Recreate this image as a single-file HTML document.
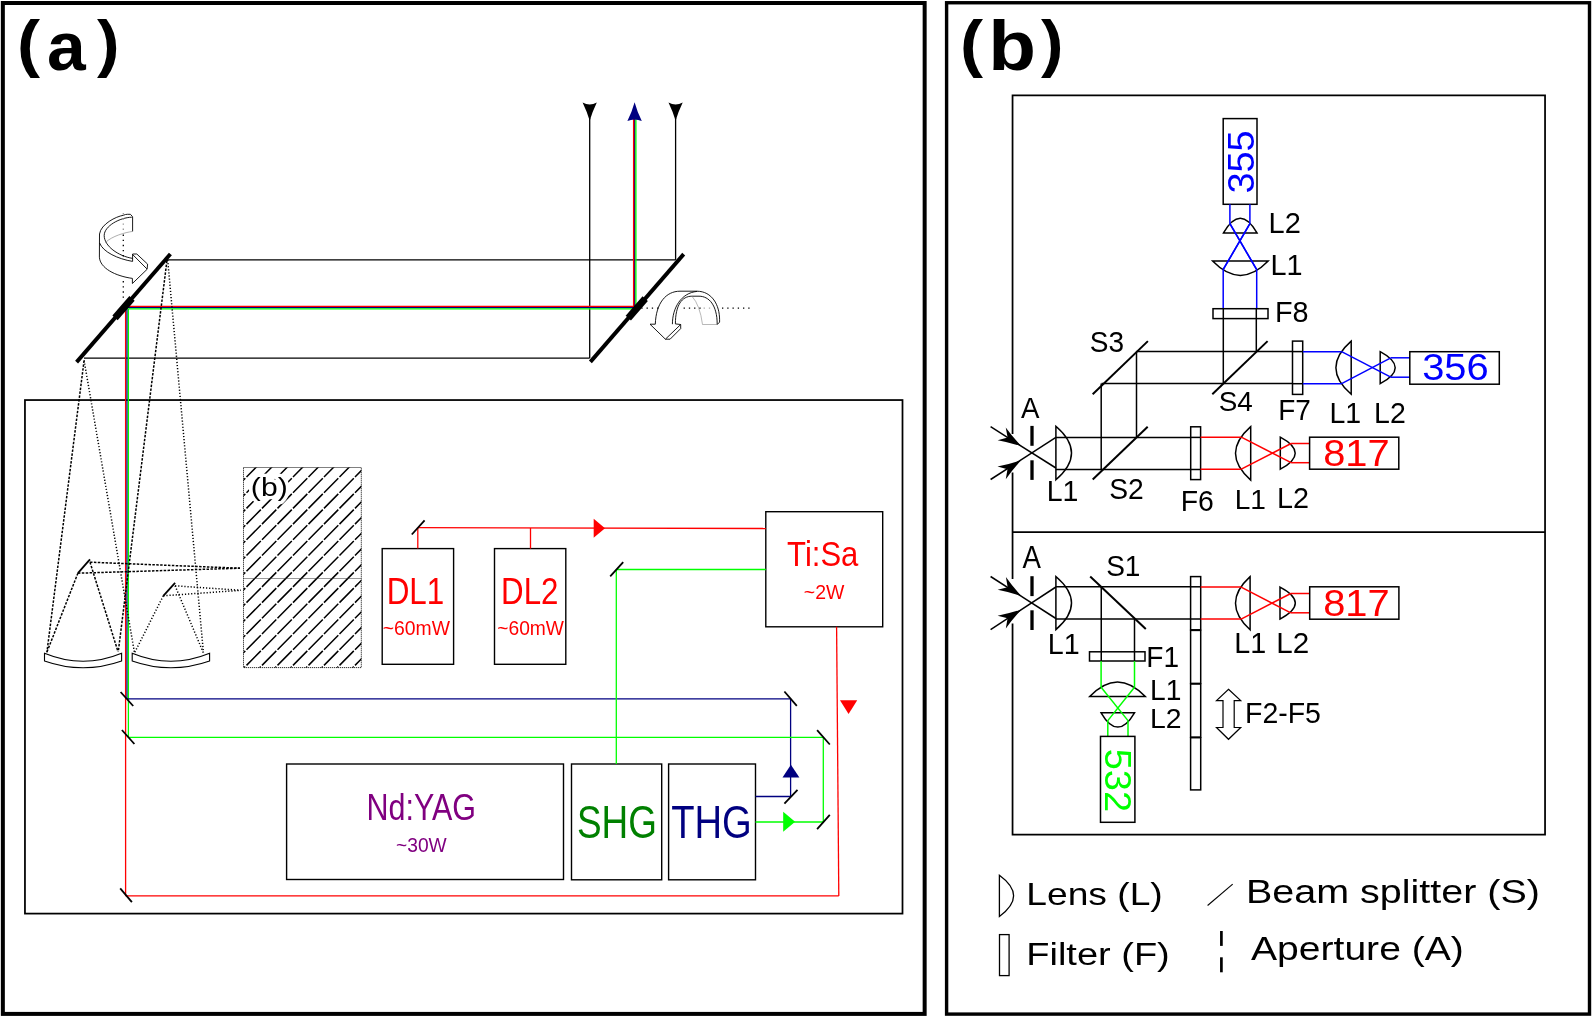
<!DOCTYPE html>
<html><head><meta charset="utf-8"><style>
html,body{margin:0;padding:0;background:#fff;overflow:hidden;}
svg{display:block;will-change:transform;}
text{font-family:"Liberation Sans",sans-serif;}
</style></head><body>
<svg width="1592" height="1017" viewBox="0 0 1592 1017">
<rect x="0" y="0" width="1592" height="1017" fill="#fff"/>
<rect x="2.85" y="3" width="921.80" height="1010.90" fill="none" stroke="#000" stroke-width="4" />
<text x="17.04" y="65.08" font-size="63.42" font-weight="bold" fill="#000" textLength="23.08" lengthAdjust="spacingAndGlyphs" >(</text>
<text x="47.01" y="69.71" font-size="69.09" font-weight="bold" fill="#000" textLength="38.67" lengthAdjust="spacingAndGlyphs" >a</text>
<text x="97.10" y="65.08" font-size="63.42" font-weight="bold" fill="#000" textLength="22.55" lengthAdjust="spacingAndGlyphs" >)</text>
<rect x="24.95" y="400.05" width="877.55" height="513.55" fill="none" stroke="#000" stroke-width="1.75" />
<line x1="167" y1="259.9" x2="675.6" y2="259.9" stroke="#000" stroke-width="1.3" />
<line x1="675.6" y1="259.9" x2="675.6" y2="118" stroke="#000" stroke-width="1.3" />
<line x1="589.7" y1="358.1" x2="589.7" y2="118" stroke="#000" stroke-width="1.3" />
<line x1="84" y1="358.1" x2="589.7" y2="358.1" stroke="#000" stroke-width="1.3" />
<path d="M582.6,102.6 Q589.7,106.6 596.8000000000001,102.6 Q592.3000000000001,112 589.7,120.8 Q587.1,112 582.6,102.6 Z" fill="#000"/>
<path d="M668.5,102.6 Q675.6,106.6 682.7,102.6 Q678.2,112 675.6,120.8 Q673.0,112 668.5,102.6 Z" fill="#000"/>
<polyline points="127,307.5 634.7,307.5 634.7,118" fill="none" stroke="#000080" stroke-width="1.3" />
<polyline points="125.6,306.3 633.6,306.3 633.6,118" fill="none" stroke="#ff0000" stroke-width="1.3" />
<polyline points="128.4,308.8 635.9,308.8 635.9,118" fill="none" stroke="#00ff00" stroke-width="1.3" />
<path d="M634.6,102.2 Q637.3000000000001,112 641.8000000000001,121 Q634.6,117.8 627.4,121 Q631.9,112 634.6,102.2 Z" fill="#000080"/>
<line x1="125.6" y1="306.3" x2="125.6" y2="895.7" stroke="#ff0000" stroke-width="1.3" />
<line x1="127" y1="307.5" x2="127" y2="698.8" stroke="#000080" stroke-width="1.3" />
<line x1="128.4" y1="308.8" x2="128.4" y2="737.3" stroke="#00ff00" stroke-width="1.3" />
<line x1="84.1" y1="360.5" x2="46.9" y2="652.3" stroke="#000" stroke-width="1.5" stroke-dasharray="2.5,1.4"/>
<line x1="84.1" y1="360.5" x2="134.4" y2="652.3" stroke="#000" stroke-width="1.5" stroke-dasharray="1.2,1.9"/>
<line x1="167.4" y1="256.9" x2="118.3" y2="651.5" stroke="#000" stroke-width="1.5" stroke-dasharray="2.5,1.4"/>
<line x1="167.4" y1="256.9" x2="203.4" y2="652.3" stroke="#000" stroke-width="1.5" stroke-dasharray="1.2,1.9"/>
<line x1="90" y1="562.2" x2="240" y2="568.2" stroke="#000" stroke-width="1.5" stroke-dasharray="2.5,1.4"/>
<line x1="77.9" y1="573.2" x2="240" y2="568.2" stroke="#000" stroke-width="1.5" stroke-dasharray="2.5,1.4"/>
<line x1="77.9" y1="573.2" x2="46.5" y2="653.1" stroke="#000" stroke-width="1.5" stroke-dasharray="2.5,1.4"/>
<line x1="90" y1="562.2" x2="118.1" y2="651.9" stroke="#000" stroke-width="1.5" stroke-dasharray="2.5,1.4"/>
<line x1="175.1" y1="585.8" x2="240.7" y2="590.3" stroke="#000" stroke-width="1.5" stroke-dasharray="1.2,1.9"/>
<line x1="163.3" y1="595.8" x2="240.7" y2="590.3" stroke="#000" stroke-width="1.5" stroke-dasharray="1.2,1.9"/>
<line x1="163.3" y1="595.8" x2="134.4" y2="653.1" stroke="#000" stroke-width="1.5" stroke-dasharray="1.2,1.9"/>
<line x1="175.1" y1="585.8" x2="203.5" y2="653.1" stroke="#000" stroke-width="1.5" stroke-dasharray="1.2,1.9"/>
<line x1="77.9" y1="573.2" x2="90" y2="559.4" stroke="#000" stroke-width="1.8" />
<line x1="163.3" y1="595.8" x2="175.1" y2="582.8" stroke="#000" stroke-width="1.8" />
<path d="M44.5,653.3 Q83.05,669.3 121.6,653.3 L121.6,660.9 Q83.05,674.5 44.5,660.9 Z" fill="#fff" stroke="#000" stroke-width="1.1"/>
<path d="M132.2,653.3 Q170.89999999999998,669.3 209.6,653.3 L209.6,660.9 Q170.89999999999998,674.5 132.2,660.9 Z" fill="#fff" stroke="#000" stroke-width="1.1"/>
<line x1="76.6" y1="362.1" x2="170.4" y2="254" stroke="#000" stroke-width="3.9" />
<line x1="115" y1="317.9" x2="132" y2="298.4" stroke="#000" stroke-width="7" />
<line x1="590.4" y1="361.9" x2="683.7" y2="254.1" stroke="#000" stroke-width="3.9" />
<line x1="628.3" y1="318.1" x2="645.2" y2="298.6" stroke="#000" stroke-width="7" />
<path d="M123.3,215.3 C116,216.5 101,224 99.5,234 L99.4,257.2 C100,268 115,276 132.4,278.4 L132.4,283.5 L147.1,269.3 L147.6,264.1 L136.8,254 L132.6,254 L132.6,261.4 C118,259 103,252 99.6,243" fill="none" stroke="#000" stroke-width="0.9" stroke-linejoin="round"/>
<path d="M123.3,215.3 C125,214.6 126,214.3 127.3,214.3 L130.4,214.3 L132.6,216.7 L132.6,231.4" fill="none" stroke="#000" stroke-width="0.9" stroke-linejoin="round"/>
<path d="M131.8,217.2 C120,217.5 104.2,226 104.2,235.5 C104.2,246 118,256 132.6,258.4" fill="none" stroke="#000" stroke-width="0.9" stroke-linejoin="round"/>
<path d="M132.6,231.4 C125,232.5 112,236 105.4,242.6" fill="none" stroke="#777" stroke-width="0.6"/>
<path d="M132.6,254.5 L146.9,268.9" fill="none" stroke="#000" stroke-width="0.9" stroke-linejoin="round"/>
<path d="M655.3,324.2 C656,303 666,291.2 680,291.2 L697,291.2 C712,291.3 719.6,305 719.6,319.8 L719.6,322.1 L717.2,324.5 C717.2,305 709,296.2 699,296.2 L691.9,296.2 C682,296.2 675.4,305 675.4,323.9 L680.7,324.5 L680.7,328.6 L670.1,339.2 L665.4,339.2 L650,324.2 Z" fill="none" stroke="#000" stroke-width="0.9" stroke-linejoin="round"/>
<path d="M672.4,324.2 C672.4,308 681,293 697,291.4 M665.4,339.2 L680.7,324.5" fill="none" stroke="#000" stroke-width="0.9" stroke-linejoin="round"/>
<path d="M691.9,296.2 Q700,305 702.5,324.5 L717.2,324.5" fill="none" stroke="#888" stroke-width="0.6"/>
<line x1="123.3" y1="213.1" x2="123.3" y2="231" stroke="#999" stroke-width="1.3" stroke-dasharray="1.4,3.75"/>
<line x1="123.3" y1="234.5" x2="123.3" y2="257.5" stroke="#000" stroke-width="1.3" stroke-dasharray="1.4,3.75"/>
<line x1="123.3" y1="281" x2="123.3" y2="298.5" stroke="#000" stroke-width="1.3" stroke-dasharray="1.4,3.75"/>
<line x1="641.3" y1="308.2" x2="659.2" y2="308.2" stroke="#000" stroke-width="1.3" stroke-dasharray="1.3,3.95"/>
<line x1="683.6" y1="308.2" x2="701" y2="308.2" stroke="#000" stroke-width="1.3" stroke-dasharray="1.3,3.95"/>
<line x1="703.6" y1="308.2" x2="711" y2="308.2" stroke="#aaa" stroke-width="1.3" stroke-dasharray="1.3,3.95"/>
<line x1="722" y1="308.2" x2="752.5" y2="308.2" stroke="#000" stroke-width="1.3" stroke-dasharray="1.3,3.95"/>
<defs><clipPath id="hclip"><rect x="243.5" y="467.5" width="117.8" height="200.1"/></clipPath></defs>
<path clip-path="url(#hclip)" d="M215.50,461.30L229.80,446.80M215.50,477.00L229.80,462.50M215.50,492.70L229.80,478.20M215.50,508.40L229.80,493.90M215.50,524.10L229.80,509.60M215.50,539.80L229.80,525.30M215.50,555.50L229.80,541.00M215.50,571.20L229.80,556.70M215.50,586.90L229.80,572.40M215.50,602.60L229.80,588.10M215.50,618.30L229.80,603.80M215.50,634.00L229.80,619.50M215.50,649.70L229.80,635.20M215.50,665.40L229.80,650.90M215.50,681.10L229.80,666.60M215.50,696.80L229.80,682.30M215.50,712.50L229.80,698.00M215.50,728.20L229.80,713.70M231.00,461.30L245.30,446.80M231.00,477.00L245.30,462.50M231.00,492.70L245.30,478.20M231.00,508.40L245.30,493.90M231.00,524.10L245.30,509.60M231.00,539.80L245.30,525.30M231.00,555.50L245.30,541.00M231.00,571.20L245.30,556.70M231.00,586.90L245.30,572.40M231.00,602.60L245.30,588.10M231.00,618.30L245.30,603.80M231.00,634.00L245.30,619.50M231.00,649.70L245.30,635.20M231.00,665.40L245.30,650.90M231.00,681.10L245.30,666.60M231.00,696.80L245.30,682.30M231.00,712.50L245.30,698.00M231.00,728.20L245.30,713.70M246.50,461.30L260.80,446.80M246.50,477.00L260.80,462.50M246.50,492.70L260.80,478.20M246.50,508.40L260.80,493.90M246.50,524.10L260.80,509.60M246.50,539.80L260.80,525.30M246.50,555.50L260.80,541.00M246.50,571.20L260.80,556.70M246.50,586.90L260.80,572.40M246.50,602.60L260.80,588.10M246.50,618.30L260.80,603.80M246.50,634.00L260.80,619.50M246.50,649.70L260.80,635.20M246.50,665.40L260.80,650.90M246.50,681.10L260.80,666.60M246.50,696.80L260.80,682.30M246.50,712.50L260.80,698.00M246.50,728.20L260.80,713.70M262.00,461.30L276.30,446.80M262.00,477.00L276.30,462.50M262.00,492.70L276.30,478.20M262.00,508.40L276.30,493.90M262.00,524.10L276.30,509.60M262.00,539.80L276.30,525.30M262.00,555.50L276.30,541.00M262.00,571.20L276.30,556.70M262.00,586.90L276.30,572.40M262.00,602.60L276.30,588.10M262.00,618.30L276.30,603.80M262.00,634.00L276.30,619.50M262.00,649.70L276.30,635.20M262.00,665.40L276.30,650.90M262.00,681.10L276.30,666.60M262.00,696.80L276.30,682.30M262.00,712.50L276.30,698.00M262.00,728.20L276.30,713.70M277.50,461.30L291.80,446.80M277.50,477.00L291.80,462.50M277.50,492.70L291.80,478.20M277.50,508.40L291.80,493.90M277.50,524.10L291.80,509.60M277.50,539.80L291.80,525.30M277.50,555.50L291.80,541.00M277.50,571.20L291.80,556.70M277.50,586.90L291.80,572.40M277.50,602.60L291.80,588.10M277.50,618.30L291.80,603.80M277.50,634.00L291.80,619.50M277.50,649.70L291.80,635.20M277.50,665.40L291.80,650.90M277.50,681.10L291.80,666.60M277.50,696.80L291.80,682.30M277.50,712.50L291.80,698.00M277.50,728.20L291.80,713.70M293.00,461.30L307.30,446.80M293.00,477.00L307.30,462.50M293.00,492.70L307.30,478.20M293.00,508.40L307.30,493.90M293.00,524.10L307.30,509.60M293.00,539.80L307.30,525.30M293.00,555.50L307.30,541.00M293.00,571.20L307.30,556.70M293.00,586.90L307.30,572.40M293.00,602.60L307.30,588.10M293.00,618.30L307.30,603.80M293.00,634.00L307.30,619.50M293.00,649.70L307.30,635.20M293.00,665.40L307.30,650.90M293.00,681.10L307.30,666.60M293.00,696.80L307.30,682.30M293.00,712.50L307.30,698.00M293.00,728.20L307.30,713.70M308.50,461.30L322.80,446.80M308.50,477.00L322.80,462.50M308.50,492.70L322.80,478.20M308.50,508.40L322.80,493.90M308.50,524.10L322.80,509.60M308.50,539.80L322.80,525.30M308.50,555.50L322.80,541.00M308.50,571.20L322.80,556.70M308.50,586.90L322.80,572.40M308.50,602.60L322.80,588.10M308.50,618.30L322.80,603.80M308.50,634.00L322.80,619.50M308.50,649.70L322.80,635.20M308.50,665.40L322.80,650.90M308.50,681.10L322.80,666.60M308.50,696.80L322.80,682.30M308.50,712.50L322.80,698.00M308.50,728.20L322.80,713.70M324.00,461.30L338.30,446.80M324.00,477.00L338.30,462.50M324.00,492.70L338.30,478.20M324.00,508.40L338.30,493.90M324.00,524.10L338.30,509.60M324.00,539.80L338.30,525.30M324.00,555.50L338.30,541.00M324.00,571.20L338.30,556.70M324.00,586.90L338.30,572.40M324.00,602.60L338.30,588.10M324.00,618.30L338.30,603.80M324.00,634.00L338.30,619.50M324.00,649.70L338.30,635.20M324.00,665.40L338.30,650.90M324.00,681.10L338.30,666.60M324.00,696.80L338.30,682.30M324.00,712.50L338.30,698.00M324.00,728.20L338.30,713.70M339.50,461.30L353.80,446.80M339.50,477.00L353.80,462.50M339.50,492.70L353.80,478.20M339.50,508.40L353.80,493.90M339.50,524.10L353.80,509.60M339.50,539.80L353.80,525.30M339.50,555.50L353.80,541.00M339.50,571.20L353.80,556.70M339.50,586.90L353.80,572.40M339.50,602.60L353.80,588.10M339.50,618.30L353.80,603.80M339.50,634.00L353.80,619.50M339.50,649.70L353.80,635.20M339.50,665.40L353.80,650.90M339.50,681.10L353.80,666.60M339.50,696.80L353.80,682.30M339.50,712.50L353.80,698.00M339.50,728.20L353.80,713.70M355.00,461.30L369.30,446.80M355.00,477.00L369.30,462.50M355.00,492.70L369.30,478.20M355.00,508.40L369.30,493.90M355.00,524.10L369.30,509.60M355.00,539.80L369.30,525.30M355.00,555.50L369.30,541.00M355.00,571.20L369.30,556.70M355.00,586.90L369.30,572.40M355.00,602.60L369.30,588.10M355.00,618.30L369.30,603.80M355.00,634.00L369.30,619.50M355.00,649.70L369.30,635.20M355.00,665.40L369.30,650.90M355.00,681.10L369.30,666.60M355.00,696.80L369.30,682.30M355.00,712.50L369.30,698.00M355.00,728.20L369.30,713.70M370.50,461.30L384.80,446.80M370.50,477.00L384.80,462.50M370.50,492.70L384.80,478.20M370.50,508.40L384.80,493.90M370.50,524.10L384.80,509.60M370.50,539.80L384.80,525.30M370.50,555.50L384.80,541.00M370.50,571.20L384.80,556.70M370.50,586.90L384.80,572.40M370.50,602.60L384.80,588.10M370.50,618.30L384.80,603.80M370.50,634.00L384.80,619.50M370.50,649.70L384.80,635.20M370.50,665.40L384.80,650.90M370.50,681.10L384.80,666.60M370.50,696.80L384.80,682.30M370.50,712.50L384.80,698.00M370.50,728.20L384.80,713.70M386.00,461.30L400.30,446.80M386.00,477.00L400.30,462.50M386.00,492.70L400.30,478.20M386.00,508.40L400.30,493.90M386.00,524.10L400.30,509.60M386.00,539.80L400.30,525.30M386.00,555.50L400.30,541.00M386.00,571.20L400.30,556.70M386.00,586.90L400.30,572.40M386.00,602.60L400.30,588.10M386.00,618.30L400.30,603.80M386.00,634.00L400.30,619.50M386.00,649.70L400.30,635.20M386.00,665.40L400.30,650.90M386.00,681.10L400.30,666.60M386.00,696.80L400.30,682.30M386.00,712.50L400.30,698.00M386.00,728.20L400.30,713.70" stroke="#000" stroke-width="1.5" fill="none"/>
<rect x="243.5" y="467.5" width="117.80" height="200.10" fill="none" stroke="#000" stroke-width="1.0" stroke-dasharray="1,1"/>
<line x1="243.5" y1="578.5" x2="361.3" y2="578.5" stroke="#333" stroke-width="1.0" stroke-dasharray="1,1"/>
<text x="250.89" y="496.41" font-size="26.63" font-weight="normal" fill="#000" textLength="36.78" lengthAdjust="spacingAndGlyphs" stroke="#fff" stroke-width="6.5" paint-order="stroke" stroke-linejoin="round">(b)</text>
<rect x="382.2" y="548.6" width="71.40" height="115.70" fill="none" stroke="#000" stroke-width="1.4" />
<rect x="494.5" y="548.6" width="71.30" height="115.70" fill="none" stroke="#000" stroke-width="1.4" />
<rect x="765.8" y="511.7" width="116.90" height="115.10" fill="none" stroke="#000" stroke-width="1.4" />
<rect x="286.6" y="764" width="276.90" height="115.50" fill="none" stroke="#000" stroke-width="1.4" />
<rect x="571.5" y="764" width="90.20" height="115.80" fill="none" stroke="#000" stroke-width="1.4" />
<rect x="668.6" y="764" width="86.90" height="115.80" fill="none" stroke="#000" stroke-width="1.4" />
<line x1="418.4" y1="527.7" x2="765.8" y2="528.5" stroke="#ff0000" stroke-width="1.3" />
<line x1="417.8" y1="527.7" x2="417.8" y2="548.6" stroke="#ff0000" stroke-width="1.3" />
<line x1="530.5" y1="528" x2="530.5" y2="548.6" stroke="#ff0000" stroke-width="1.3" />
<polygon points="593.70,518.80 605.00,528.20 593.70,537.70" fill="#ff0000" />
<line x1="836.6" y1="626.8" x2="838.8" y2="896" stroke="#ff0000" stroke-width="1.3" />
<polygon points="840.00,700.30 857.20,700.30 848.60,713.90" fill="#ff0000" />
<line x1="125.6" y1="895.9" x2="838.8" y2="895.9" stroke="#ff0000" stroke-width="1.4" />
<line x1="411.8" y1="534.5" x2="424.6" y2="520.4" stroke="#000" stroke-width="1.8" />
<line x1="120.2" y1="888.4" x2="131.9" y2="902.2" stroke="#000" stroke-width="1.8" />
<line x1="127" y1="698.8" x2="790.6" y2="698.8" stroke="#000080" stroke-width="1.3" />
<line x1="790.6" y1="698.8" x2="790.6" y2="796.5" stroke="#000080" stroke-width="1.3" />
<line x1="755.5" y1="796.5" x2="790.6" y2="796.5" stroke="#000080" stroke-width="1.3" />
<polygon points="790.90,764.70 799.40,777.40 782.50,777.40" fill="#000080" />
<line x1="120.6" y1="692" x2="133.2" y2="706" stroke="#000" stroke-width="1.8" />
<line x1="784.4" y1="691.5" x2="796.8" y2="705.8" stroke="#000" stroke-width="1.8" />
<line x1="784.4" y1="803.7" x2="797.5" y2="789.8" stroke="#000" stroke-width="1.8" />
<line x1="128.4" y1="737.3" x2="823.3" y2="737.3" stroke="#00ff00" stroke-width="1.3" />
<line x1="823.3" y1="737.3" x2="823.3" y2="822" stroke="#00ff00" stroke-width="1.3" />
<line x1="755.5" y1="822" x2="823.3" y2="822" stroke="#00ff00" stroke-width="1.3" />
<polygon points="783.20,811.80 795.10,821.80 783.20,831.80" fill="#00ff00" />
<line x1="616.3" y1="764" x2="616.3" y2="569.5" stroke="#00ff00" stroke-width="1.3" />
<line x1="616.3" y1="569.5" x2="765.8" y2="569.5" stroke="#00ff00" stroke-width="1.3" />
<line x1="121.9" y1="730" x2="134.4" y2="744" stroke="#000" stroke-width="1.8" />
<line x1="817.1" y1="730.1" x2="829.8" y2="744.5" stroke="#000" stroke-width="1.8" />
<line x1="817.1" y1="829.2" x2="829.8" y2="814.9" stroke="#000" stroke-width="1.8" />
<line x1="610.2" y1="576.3" x2="623.2" y2="562.2" stroke="#000" stroke-width="1.8" />
<text x="386.69" y="603.50" font-size="36.09" font-weight="normal" fill="#ff0000" textLength="57.61" lengthAdjust="spacingAndGlyphs" >DL1</text>
<text x="382.73" y="634.80" font-size="20.00" font-weight="normal" fill="#ff0000" textLength="67.23" lengthAdjust="spacingAndGlyphs" >~60mW</text>
<text x="501.10" y="603.50" font-size="36.09" font-weight="normal" fill="#ff0000" textLength="57.35" lengthAdjust="spacingAndGlyphs" >DL2</text>
<text x="497.24" y="634.80" font-size="20.00" font-weight="normal" fill="#ff0000" textLength="66.73" lengthAdjust="spacingAndGlyphs" >~60mW</text>
<text x="787.08" y="565.80" font-size="35.07" font-weight="normal" fill="#ff0000" textLength="71.28" lengthAdjust="spacingAndGlyphs" >Ti:Sa</text>
<text x="803.82" y="598.60" font-size="20.43" font-weight="normal" fill="#ff0000" textLength="40.55" lengthAdjust="spacingAndGlyphs" >~2W</text>
<text x="366.56" y="819.70" font-size="36.81" font-weight="normal" fill="#800080" textLength="109.49" lengthAdjust="spacingAndGlyphs" >Nd:YAG</text>
<text x="396.03" y="851.80" font-size="20.58" font-weight="normal" fill="#800080" textLength="50.76" lengthAdjust="spacingAndGlyphs" >~30W</text>
<text x="576.94" y="837.70" font-size="45.36" font-weight="normal" fill="#008000" textLength="79.92" lengthAdjust="spacingAndGlyphs" >SHG</text>
<text x="671.24" y="837.70" font-size="45.36" font-weight="normal" fill="#000080" textLength="80.57" lengthAdjust="spacingAndGlyphs" >THG</text>
<rect x="946.6" y="2.75" width="642.90" height="1011.35" fill="none" stroke="#000" stroke-width="3.4" />
<text x="960.04" y="65.08" font-size="63.42" font-weight="bold" fill="#000" textLength="23.08" lengthAdjust="spacingAndGlyphs" >(</text>
<text x="988.22" y="69.70" font-size="69.80" font-weight="bold" fill="#000" textLength="47.78" lengthAdjust="spacingAndGlyphs" >b</text>
<text x="1041.10" y="65.08" font-size="63.42" font-weight="bold" fill="#000" textLength="22.44" lengthAdjust="spacingAndGlyphs" >)</text>
<polyline points="1012.55,434 1012.55,95.3 1545.05,95.3 1545.05,834.6 1012.55,834.6 1012.55,623.4" fill="none" stroke="#000" stroke-width="1.75" stroke-linejoin="miter"/>
<line x1="1012.55" y1="472.5" x2="1012.55" y2="579" stroke="#000" stroke-width="1.75" />
<line x1="1012.55" y1="532" x2="1545.05" y2="532" stroke="#000" stroke-width="1.75" />
<path d="M1223.5,232.9 Q1240.25,203.50 1257,232.9 Z" fill="none" stroke="#000" stroke-width="1.5" stroke-linejoin="miter" stroke-miterlimit="10"/>
<path d="M1212.6,261.1 Q1240.40,289.70 1268.2,261.1 Z" fill="none" stroke="#000" stroke-width="1.5" stroke-linejoin="miter" stroke-miterlimit="10"/>
<path d="M1351.2,341.1 Q1320.60,367.65 1351.2,394.2 Z" fill="none" stroke="#000" stroke-width="1.5" stroke-linejoin="miter" stroke-miterlimit="10"/>
<path d="M1380.2,351.7 Q1410.20,367.70 1380.2,383.7 Z" fill="none" stroke="#000" stroke-width="1.5" stroke-linejoin="miter" stroke-miterlimit="10"/>
<path d="M1055.9,426.3 Q1087.10,453.05 1055.9,479.8 Z" fill="none" stroke="#000" stroke-width="1.5" stroke-linejoin="miter" stroke-miterlimit="10"/>
<path d="M1250.7,426.6 Q1220.30,453.35 1250.7,480.1 Z" fill="none" stroke="#000" stroke-width="1.5" stroke-linejoin="miter" stroke-miterlimit="10"/>
<path d="M1280.3,437.2 Q1310.10,453.20 1280.3,469.2 Z" fill="none" stroke="#000" stroke-width="1.5" stroke-linejoin="miter" stroke-miterlimit="10"/>
<path d="M1055.9,576.5 Q1087.10,603.05 1055.9,629.6 Z" fill="none" stroke="#000" stroke-width="1.5" stroke-linejoin="miter" stroke-miterlimit="10"/>
<path d="M1089.7,696.6 Q1117.50,667.20 1145.3,696.6 Z" fill="none" stroke="#000" stroke-width="1.5" stroke-linejoin="miter" stroke-miterlimit="10"/>
<path d="M1101.1,712.8 Q1117.80,741.40 1134.5,712.8 Z" fill="none" stroke="#000" stroke-width="1.5" stroke-linejoin="miter" stroke-miterlimit="10"/>
<path d="M1250.1,576.6 Q1220.90,603.15 1250.1,629.7 Z" fill="none" stroke="#000" stroke-width="1.5" stroke-linejoin="miter" stroke-miterlimit="10"/>
<path d="M1280,587.1 Q1310.60,603.10 1280,619.1 Z" fill="none" stroke="#000" stroke-width="1.5" stroke-linejoin="miter" stroke-miterlimit="10"/>
<path d="M999.4,875.2 Q1027.80,895.85 999.4,916.5 Z" fill="none" stroke="#000" stroke-width="1.3" stroke-linejoin="miter" stroke-miterlimit="10"/>
<rect x="1223.2" y="118.6" width="33.80" height="85.70" fill="none" stroke="#000" stroke-width="1.5" />
<line x1="1229.9" y1="204.3" x2="1229.9" y2="223.7" stroke="#0000ff" stroke-width="1.5" />
<line x1="1249.9" y1="204.3" x2="1249.9" y2="223.7" stroke="#0000ff" stroke-width="1.5" />
<line x1="1229.9" y1="223.7" x2="1256.7" y2="269.7" stroke="#0000ff" stroke-width="1.5" />
<line x1="1249.9" y1="223.7" x2="1223.1" y2="269.7" stroke="#0000ff" stroke-width="1.5" />
<line x1="1229.9" y1="223.7" x2="1256.7" y2="269.7" stroke="#0000ff" stroke-width="1.5" />
<line x1="1249.9" y1="223.7" x2="1223.1" y2="269.7" stroke="#0000ff" stroke-width="1.5" />
<line x1="1223.2" y1="269.7" x2="1223.2" y2="308.7" stroke="#0000ff" stroke-width="1.5" />
<line x1="1256.7" y1="269.7" x2="1256.7" y2="308.7" stroke="#0000ff" stroke-width="1.5" />
<rect x="1213" y="308.7" width="55.00" height="9.90" fill="none" stroke="#000" stroke-width="1.5" />
<line x1="1223.3" y1="308.7" x2="1223.3" y2="383.5" stroke="#000" stroke-width="1.5" />
<line x1="1256.3" y1="308.7" x2="1256.3" y2="351.6" stroke="#000" stroke-width="1.5" />
<line x1="1136.5" y1="351.6" x2="1292.7" y2="351.6" stroke="#000" stroke-width="1.5" />
<line x1="1101.6" y1="383.5" x2="1292.7" y2="383.5" stroke="#000" stroke-width="1.5" />
<line x1="1136.5" y1="351.6" x2="1136.5" y2="437.4" stroke="#000" stroke-width="1.5" />
<line x1="1101.2" y1="383.5" x2="1101.2" y2="469.5" stroke="#000" stroke-width="1.5" />
<line x1="1092.7" y1="394.3" x2="1147.9" y2="341.1" stroke="#000" stroke-width="2" />
<line x1="1212.3" y1="394.3" x2="1267.6" y2="341.1" stroke="#000" stroke-width="2" />
<rect x="1292.5" y="341.1" width="10.20" height="53.30" fill="none" stroke="#000" stroke-width="1.5" />
<line x1="1292.5" y1="351.6" x2="1302.7" y2="351.6" stroke="#000" stroke-width="1.5" />
<line x1="1292.5" y1="383.7" x2="1302.7" y2="383.7" stroke="#000" stroke-width="1.5" />
<line x1="1302.9" y1="351.7" x2="1341.6" y2="351.7" stroke="#0000ff" stroke-width="1.5" />
<line x1="1302.9" y1="383.7" x2="1341.6" y2="383.7" stroke="#0000ff" stroke-width="1.5" />
<line x1="1341.6" y1="351.7" x2="1390.8" y2="377.2" stroke="#0000ff" stroke-width="1.5" />
<line x1="1341.6" y1="383.7" x2="1390.8" y2="357.8" stroke="#0000ff" stroke-width="1.5" />
<line x1="1390.8" y1="357.8" x2="1410" y2="357.8" stroke="#0000ff" stroke-width="1.5" />
<line x1="1390.8" y1="377.2" x2="1410" y2="377.2" stroke="#0000ff" stroke-width="1.5" />
<rect x="1409.8" y="351.7" width="89.50" height="32.50" fill="none" stroke="#000" stroke-width="1.5" />
<text x="1422.21" y="379.64" font-size="36.34" font-weight="normal" fill="#0000ff" textLength="66.53" lengthAdjust="spacingAndGlyphs" >356</text>
<g transform="translate(1254,192.1) rotate(-90)">
<text x="-1.51" y="-0.37" font-size="37.32" font-weight="normal" fill="#0000ff" textLength="63.06" lengthAdjust="spacingAndGlyphs" >355</text>
</g>
<text x="1021.00" y="417.50" font-size="29.57" font-weight="normal" fill="#000" textLength="18.46" lengthAdjust="spacingAndGlyphs" >A</text>
<line x1="1032" y1="425.9" x2="1032" y2="445.8" stroke="#000" stroke-width="3.3" />
<line x1="1032" y1="460.3" x2="1032" y2="479.9" stroke="#000" stroke-width="3.3" />
<line x1="990.6" y1="426.7" x2="1055.9" y2="468" stroke="#000" stroke-width="1.5" />
<line x1="990.6" y1="479.5" x2="1055.9" y2="437.4" stroke="#000" stroke-width="1.5" />
<path d="M1021.70,446.40 Q1010.17,442.58 997.67,440.30 L1007.64,437.58 L1005.74,427.42 Q1013.24,437.68 1021.70,446.40 Z" fill="#000"/>
<path d="M1021.40,460.10 Q1013.09,468.96 1005.77,479.35 L1007.49,469.16 L997.48,466.61 Q1009.94,464.12 1021.40,460.10 Z" fill="#000"/>
<line x1="1055.9" y1="437.4" x2="1190.7" y2="437.4" stroke="#000" stroke-width="1.5" />
<line x1="1055.9" y1="469.5" x2="1190.7" y2="469.5" stroke="#000" stroke-width="1.5" />
<line x1="1092.7" y1="479.5" x2="1147.7" y2="426.7" stroke="#000" stroke-width="2" />
<rect x="1190.7" y="426.8" width="9.90" height="52.80" fill="none" stroke="#000" stroke-width="1.5" />
<line x1="1190.7" y1="437.4" x2="1200.6" y2="437.4" stroke="#000" stroke-width="1.5" />
<line x1="1190.7" y1="469.5" x2="1200.6" y2="469.5" stroke="#000" stroke-width="1.5" />
<line x1="1200.6" y1="437.2" x2="1241.3" y2="437.2" stroke="#ff0000" stroke-width="1.5" />
<line x1="1200.6" y1="469.2" x2="1241.3" y2="469.2" stroke="#ff0000" stroke-width="1.5" />
<line x1="1241.3" y1="437.2" x2="1291.1" y2="462.7" stroke="#ff0000" stroke-width="1.5" />
<line x1="1241.3" y1="469.2" x2="1291.1" y2="443.5" stroke="#ff0000" stroke-width="1.5" />
<line x1="1291.1" y1="443.5" x2="1309.6" y2="443.5" stroke="#ff0000" stroke-width="1.5" />
<line x1="1291.1" y1="462.7" x2="1309.6" y2="462.7" stroke="#ff0000" stroke-width="1.5" />
<rect x="1309.6" y="437.2" width="89.20" height="32.00" fill="none" stroke="#000" stroke-width="1.5" />
<text x="1323.21" y="465.53" font-size="36.62" font-weight="normal" fill="#ff0000" textLength="66.53" lengthAdjust="spacingAndGlyphs" >817</text>
<text x="1268.58" y="233.00" font-size="29.43" font-weight="normal" fill="#000" textLength="32.24" lengthAdjust="spacingAndGlyphs" >L2</text>
<text x="1270.39" y="274.70" font-size="29.42" font-weight="normal" fill="#000" textLength="32.07" lengthAdjust="spacingAndGlyphs" >L1</text>
<text x="1274.90" y="321.61" font-size="28.73" font-weight="normal" fill="#000" textLength="33.61" lengthAdjust="spacingAndGlyphs" >F8</text>
<text x="1089.74" y="351.51" font-size="29.01" font-weight="normal" fill="#000" textLength="34.27" lengthAdjust="spacingAndGlyphs" >S3</text>
<text x="1218.75" y="410.92" font-size="28.17" font-weight="normal" fill="#000" textLength="34.08" lengthAdjust="spacingAndGlyphs" >S4</text>
<text x="1278.27" y="420.40" font-size="29.13" font-weight="normal" fill="#000" textLength="32.59" lengthAdjust="spacingAndGlyphs" >F7</text>
<text x="1329.42" y="422.60" font-size="29.57" font-weight="normal" fill="#000" textLength="31.73" lengthAdjust="spacingAndGlyphs" >L1</text>
<text x="1374.12" y="422.60" font-size="29.14" font-weight="normal" fill="#000" textLength="31.67" lengthAdjust="spacingAndGlyphs" >L2</text>
<text x="1046.72" y="500.90" font-size="28.84" font-weight="normal" fill="#000" textLength="31.73" lengthAdjust="spacingAndGlyphs" >L1</text>
<text x="1109.23" y="498.91" font-size="29.15" font-weight="normal" fill="#000" textLength="34.58" lengthAdjust="spacingAndGlyphs" >S2</text>
<text x="1180.73" y="510.61" font-size="28.73" font-weight="normal" fill="#000" textLength="33.17" lengthAdjust="spacingAndGlyphs" >F6</text>
<text x="1234.65" y="508.70" font-size="28.26" font-weight="normal" fill="#000" textLength="31.28" lengthAdjust="spacingAndGlyphs" >L1</text>
<text x="1276.90" y="508.20" font-size="28.86" font-weight="normal" fill="#000" textLength="32.01" lengthAdjust="spacingAndGlyphs" >L2</text>
<text x="1022.50" y="568.00" font-size="30.58" font-weight="normal" fill="#000" textLength="18.46" lengthAdjust="spacingAndGlyphs" >A</text>
<line x1="1032" y1="576.2" x2="1032" y2="596.1" stroke="#000" stroke-width="3.3" />
<line x1="1032" y1="610.3" x2="1032" y2="630" stroke="#000" stroke-width="3.3" />
<line x1="990.6" y1="576.5" x2="1055.9" y2="618.5" stroke="#000" stroke-width="1.5" />
<line x1="990.6" y1="629.6" x2="1055.9" y2="587" stroke="#000" stroke-width="1.5" />
<path d="M1021.60,596.20 Q1010.12,592.22 997.65,589.77 L1007.66,587.19 L1005.91,577.00 Q1013.26,587.37 1021.60,596.20 Z" fill="#000"/>
<path d="M1021.60,609.40 Q1013.21,618.19 1005.81,628.51 L1007.61,618.34 L997.62,615.71 Q1010.10,613.32 1021.60,609.40 Z" fill="#000"/>
<line x1="1055.9" y1="586.8" x2="1190.7" y2="586.8" stroke="#000" stroke-width="1.5" />
<line x1="1055.9" y1="619" x2="1190.7" y2="619" stroke="#000" stroke-width="1.5" />
<line x1="1090.2" y1="576.5" x2="1145.8" y2="629.1" stroke="#000" stroke-width="2" />
<line x1="1101.25" y1="586.8" x2="1101.25" y2="661" stroke="#000" stroke-width="1.5" />
<line x1="1134.5" y1="619" x2="1134.5" y2="661" stroke="#000" stroke-width="1.5" />
<rect x="1089.5" y="651.8" width="55.50" height="9.20" fill="none" stroke="#000" stroke-width="1.5" />
<line x1="1101.1" y1="661.2" x2="1101.1" y2="687.2" stroke="#00ff00" stroke-width="1.5" />
<line x1="1134.5" y1="661.2" x2="1134.5" y2="687.2" stroke="#00ff00" stroke-width="1.5" />
<line x1="1101.1" y1="687.2" x2="1128" y2="720.6" stroke="#00ff00" stroke-width="1.5" />
<line x1="1134.5" y1="687.2" x2="1107.8" y2="720.6" stroke="#00ff00" stroke-width="1.5" />
<line x1="1107.8" y1="720.6" x2="1107.8" y2="736.4" stroke="#00ff00" stroke-width="1.5" />
<line x1="1128" y1="720.6" x2="1128" y2="736.4" stroke="#00ff00" stroke-width="1.5" />
<rect x="1100.5" y="736.4" width="34.40" height="85.90" fill="none" stroke="#000" stroke-width="1.5" />
<g transform="translate(1104.8,750.2) rotate(90)">
<text x="-1.52" y="-0.38" font-size="37.75" font-weight="normal" fill="#00ff00" textLength="63.35" lengthAdjust="spacingAndGlyphs" >532</text>
</g>
<rect x="1190.6" y="576.6" width="10.10" height="53.20" fill="none" stroke="#000" stroke-width="1.5" />
<rect x="1190.6" y="630.4" width="10.10" height="53.00" fill="none" stroke="#000" stroke-width="1.5" />
<rect x="1190.6" y="684" width="10.10" height="53.10" fill="none" stroke="#000" stroke-width="1.5" />
<rect x="1190.6" y="737.7" width="10.10" height="52.20" fill="none" stroke="#000" stroke-width="1.5" />
<line x1="1190.6" y1="586.8" x2="1200.7" y2="586.8" stroke="#000" stroke-width="1.5" />
<line x1="1190.6" y1="619" x2="1200.7" y2="619" stroke="#000" stroke-width="1.5" />
<line x1="1200.7" y1="587.1" x2="1241.1" y2="587.1" stroke="#ff0000" stroke-width="1.5" />
<line x1="1200.7" y1="619.1" x2="1241.1" y2="619.1" stroke="#ff0000" stroke-width="1.5" />
<line x1="1241.1" y1="587.1" x2="1290.8" y2="612.8" stroke="#ff0000" stroke-width="1.5" />
<line x1="1241.1" y1="619.1" x2="1290.8" y2="593.5" stroke="#ff0000" stroke-width="1.5" />
<line x1="1290.8" y1="593.5" x2="1309.7" y2="593.5" stroke="#ff0000" stroke-width="1.5" />
<line x1="1290.8" y1="612.8" x2="1309.7" y2="612.8" stroke="#ff0000" stroke-width="1.5" />
<rect x="1309.7" y="586.8" width="89.20" height="32.40" fill="none" stroke="#000" stroke-width="1.5" />
<text x="1323.21" y="615.53" font-size="36.62" font-weight="normal" fill="#ff0000" textLength="66.53" lengthAdjust="spacingAndGlyphs" >817</text>
<path d="M1228.5,689.2 L1240.7,700.6 L1234.2,700.6 L1234.2,727.5 L1240.7,727.5 L1228.5,739.3 L1216.5,727.5 L1223,727.5 L1223,700.6 L1216.5,700.6 Z" fill="#fff" stroke="#000" stroke-width="1.2"/>
<text x="1106.14" y="575.80" font-size="29.86" font-weight="normal" fill="#000" textLength="34.31" lengthAdjust="spacingAndGlyphs" >S1</text>
<text x="1047.70" y="653.80" font-size="28.70" font-weight="normal" fill="#000" textLength="31.96" lengthAdjust="spacingAndGlyphs" >L1</text>
<text x="1146.25" y="667.30" font-size="28.70" font-weight="normal" fill="#000" textLength="32.77" lengthAdjust="spacingAndGlyphs" >F1</text>
<text x="1234.30" y="652.60" font-size="29.42" font-weight="normal" fill="#000" textLength="31.96" lengthAdjust="spacingAndGlyphs" >L1</text>
<text x="1276.33" y="652.60" font-size="29.00" font-weight="normal" fill="#000" textLength="32.92" lengthAdjust="spacingAndGlyphs" >L2</text>
<text x="1150.04" y="700.40" font-size="28.99" font-weight="normal" fill="#000" textLength="31.39" lengthAdjust="spacingAndGlyphs" >L1</text>
<text x="1150.03" y="727.60" font-size="28.29" font-weight="normal" fill="#000" textLength="31.55" lengthAdjust="spacingAndGlyphs" >L2</text>
<text x="1245.02" y="723.11" font-size="29.15" font-weight="normal" fill="#000" textLength="75.87" lengthAdjust="spacingAndGlyphs" >F2-F5</text>
<text x="1026.32" y="904.60" font-size="31.30" font-weight="normal" fill="#000" textLength="136.44" lengthAdjust="spacingAndGlyphs" >Lens (L)</text>
<line x1="1207.6" y1="905.5" x2="1232.7" y2="884.2" stroke="#000" stroke-width="1.1" />
<text x="1245.94" y="903.40" font-size="32.32" font-weight="normal" fill="#000" textLength="293.99" lengthAdjust="spacingAndGlyphs" >Beam splitter (S)</text>
<rect x="999.5" y="934.6" width="9.60" height="41.00" fill="none" stroke="#000" stroke-width="1.3" />
<text x="1026.26" y="965.00" font-size="31.88" font-weight="normal" fill="#000" textLength="143.50" lengthAdjust="spacingAndGlyphs" >Filter (F)</text>
<line x1="1221.4" y1="931" x2="1221.4" y2="945.9" stroke="#000" stroke-width="2.7" />
<line x1="1221.4" y1="957.3" x2="1221.4" y2="972.3" stroke="#000" stroke-width="2.7" />
<text x="1251.00" y="960.30" font-size="33.33" font-weight="normal" fill="#000" textLength="212.81" lengthAdjust="spacingAndGlyphs" >Aperture (A)</text>
</svg>
</body></html>
